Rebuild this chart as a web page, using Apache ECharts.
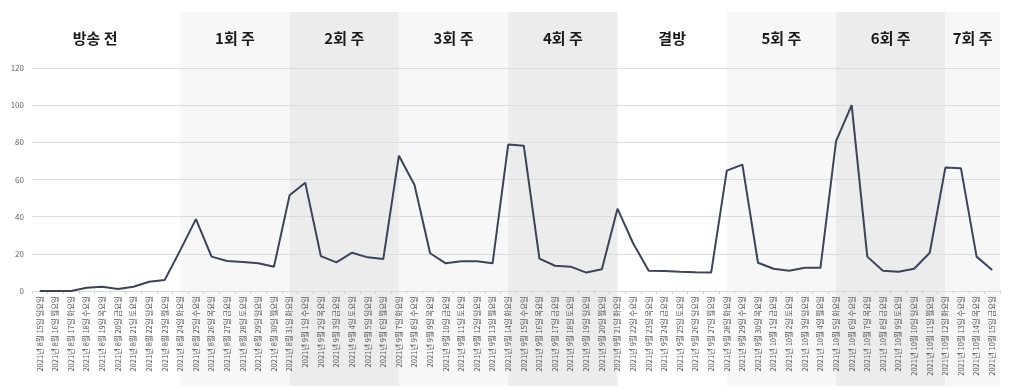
<!DOCTYPE html>
<html>
<head>
<meta charset="utf-8">
<script src="https://cdn.jsdelivr.net/npm/echarts@6/dist/echarts.min.js"></script>
<style>
  html, body { margin: 0; padding: 0; background: #fff; }
  #chart { width: 1020px; height: 390px; }
</style>
</head>
<body>
<div id="chart"></div>
<script>
// 날짜 (x축 카테고리)
const dates = [
  '2021년 8월 15일 일요일', '2021년 8월 16일 월요일', '2021년 8월 17일 화요일', '2021년 8월 18일 수요일', '2021년 8월 19일 목요일', '2021년 8월 20일 금요일', '2021년 8월 21일 토요일',
  '2021년 8월 22일 일요일', '2021년 8월 23일 월요일', '2021년 8월 24일 화요일', '2021년 8월 25일 수요일', '2021년 8월 26일 목요일', '2021년 8월 27일 금요일', '2021년 8월 28일 토요일',
  '2021년 8월 29일 일요일', '2021년 8월 30일 월요일', '2021년 8월 31일 화요일', '2021년 9월 1일 수요일', '2021년 9월 2일 목요일', '2021년 9월 3일 금요일', '2021년 9월 4일 토요일',
  '2021년 9월 5일 일요일', '2021년 9월 6일 월요일', '2021년 9월 7일 화요일', '2021년 9월 8일 수요일', '2021년 9월 9일 목요일', '2021년 9월 10일 금요일', '2021년 9월 11일 토요일',
  '2021년 9월 12일 일요일', '2021년 9월 13일 월요일', '2021년 9월 14일 화요일', '2021년 9월 15일 수요일', '2021년 9월 16일 목요일', '2021년 9월 17일 금요일', '2021년 9월 18일 토요일',
  '2021년 9월 19일 일요일', '2021년 9월 20일 월요일', '2021년 9월 21일 화요일', '2021년 9월 22일 수요일', '2021년 9월 23일 목요일', '2021년 9월 24일 금요일', '2021년 9월 25일 토요일',
  '2021년 9월 26일 일요일', '2021년 9월 27일 월요일', '2021년 9월 28일 화요일', '2021년 9월 29일 수요일', '2021년 9월 30일 목요일', '2021년 10월 1일 금요일', '2021년 10월 2일 토요일',
  '2021년 10월 3일 일요일', '2021년 10월 4일 월요일', '2021년 10월 5일 화요일', '2021년 10월 6일 수요일', '2021년 10월 7일 목요일', '2021년 10월 8일 금요일', '2021년 10월 9일 토요일',
  '2021년 10월 10일 일요일', '2021년 10월 11일 월요일', '2021년 10월 12일 화요일', '2021년 10월 13일 수요일', '2021년 10월 14일 목요일', '2021년 10월 15일 금요일'
];

// 검색량 (최대 100 기준)
const values = [
  0, 0, 0, 1.8, 2.3, 1.1, 2.3,
  5.0, 5.9, 22, 38.7, 18.5, 16.1, 15.6,
  14.9, 13.1, 51.5, 58.3, 18.8, 15.4, 20.6,
  18.1, 17.2, 72.8, 57.0, 20.3, 14.9, 16.0,
  16.0, 14.9, 78.8, 78.2, 17.4, 13.6, 13.1,
  9.9, 11.7, 44.3, 25.7, 10.9, 10.8, 10.4,
  10.1, 9.9, 64.8, 68.0, 15.2, 12.0, 10.9,
  12.5, 12.5, 80.7, 100, 18.5, 10.9, 10.4,
  12.0, 20.6, 66.4, 66.0, 18.5, 11.3
];

// 방송 주차 구간
const bandNames  = ['방송 전', '1회 주', '2회 주', '3회 주', '4회 주', '결방', '5회 주', '6회 주', '7회 주'];
const bandStarts = [null, '2021년 8월 24일 화요일', '2021년 8월 31일 화요일', '2021년 9월 7일 화요일', '2021년 9월 14일 화요일',
                    '2021년 9월 21일 화요일', '2021년 9월 28일 화요일', '2021년 10월 5일 화요일', '2021년 10월 12일 화요일'];
const bandShades = ['none', 'light', 'dark', 'light', 'dark', 'none', 'light', 'dark', 'light'];

const yTicks = [0, 20, 40, 60, 80, 100, 120];

const shadeColor = { none: 'rgba(0,0,0,0)', light: '#f7f7f7', dark: '#ececec' };
const FONT = '"Noto Sans CJK KR", "Noto Sans", sans-serif';

const chart = echarts.init(document.getElementById('chart'), null, { renderer: 'canvas' });

const option = {
  animation: false,
  grid: { left: 32, right: 20, top: 68, bottom: 99 },
  xAxis: {
    type: 'category',
    data: dates,
    boundaryGap: true,
    axisLine: { show: true, lineStyle: { color: '#d9d9d9' } },
    axisTick: { show: true, length: 3, lineStyle: { color: '#cfcfcf' } },
    axisLabel: {
      interval: 0,
      rotate: 90,
      fontSize: 7.5,
      color: '#5a5a5a',
      fontFamily: FONT,
      margin: 5
    }
  },
  yAxis: {
    type: 'value',
    min: yTicks[0],
    max: yTicks[yTicks.length - 1],
    interval: 20,
    axisLine: { show: false },
    axisTick: { show: false },
    axisLabel: { fontSize: 8, color: '#666', fontFamily: FONT, margin: 8 },
    splitLine: { lineStyle: { color: '#dcdcdc', width: 1 } }
  },
  series: [
    {
      // 주차 배경 + 제목
      type: 'custom',
      z: -1,
      silent: true,
      clip: false,
      data: bandNames.map((n, i) => [i]),
      renderItem: (params, api) => {
        const i = params.dataIndex;
        const cs = params.coordSys;
        const x0 = bandStarts[i] ? api.coord([dates.indexOf(bandStarts[i]), 0])[0] : 10;
        const x1 = i + 1 < bandStarts.length
          ? api.coord([dates.indexOf(bandStarts[i + 1]), 0])[0]
          : cs.x + cs.width;
        return {
          type: 'group',
          children: [
            {
              type: 'rect',
              shape: { x: x0, y: 12, width: x1 - x0, height: 374 },
              style: { fill: shadeColor[bandShades[i]] }
            },
            {
              type: 'text',
              style: {
                text: bandNames[i],
                x: (x0 + x1) / 2,
                y: 38,
                align: 'center',
                verticalAlign: 'middle',
                font: 'bold 15px ' + FONT,
                fill: '#1a1a1a'
              }
            }
          ]
        };
      }
    },
    {
      type: 'line',
      data: values,
      symbol: 'none',
      z: 3,
      lineStyle: { color: '#3a4559', width: 2 }
    }
  ]
};

chart.setOption(option);
</script>
</body>
</html>
